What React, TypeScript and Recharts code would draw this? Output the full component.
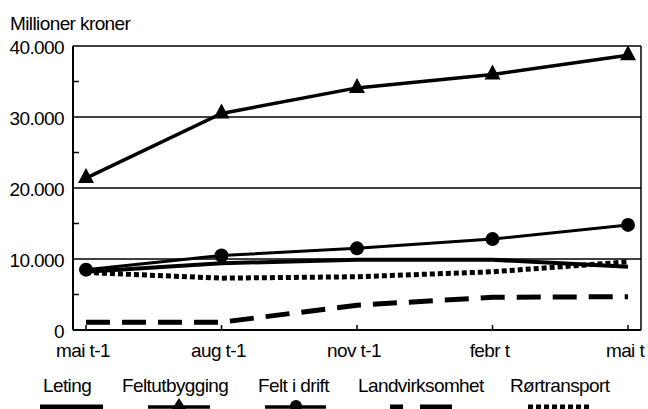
import { Line, LineChart, ReferenceLine, XAxis, YAxis } from "recharts"

const categories = ["mai t-1", "aug t-1", "nov t-1", "febr t", "mai t"]
const leting = [8200, 9400, 9900, 9900, 8900]
const feltutbygging = [21400, 30500, 34100, 36000, 38700]
const feltIDrift = [8500, 10500, 11500, 12800, 14800]
const landvirksomhet = [1100, 1100, 3500, 4600, 4700]
const rortransport = [8100, 7300, 7500, 8200, 9600]

const yTicks = [0, 5000, 10000, 15000, 20000, 25000, 30000, 35000, 40000]
const gridValues = [10000, 20000, 30000, 40000]

const data = categories.map((month, i) => ({
  month,
  leting: leting[i],
  feltutbygging: feltutbygging[i],
  feltIDrift: feltIDrift[i],
  landvirksomhet: landvirksomhet[i],
  rortransport: rortransport[i],
}))

const font = "'Liberation Sans', Arial, Helvetica, sans-serif"
const fontSize = 19
const spacing = -0.6

const fmt = (v: number) => (v === 0 ? "0" : `${v / 1000}.000`)

const YTick = (props: any) => {
  const { x, y, payload } = props
  const v = payload.value
  if (v % 10000 !== 0) {
    return <line x1={x} x2={x + 6} y1={y} y2={y} stroke="#000" strokeWidth={1.5} />
  }
  return (
    <text x={x - 9} y={y + 1} textAnchor="end" dominantBaseline="central" fontFamily={font} fontSize={fontSize} letterSpacing={spacing} fill="#000">
      {fmt(v)}
    </text>
  )
}

const XTick = (props: any) => {
  const { x, y, payload } = props
  return (
    <g>
      <line x1={x} x2={x} y1={y - 5} y2={y} stroke="#000" strokeWidth={1.5} />
      <text x={x - 3} y={y + 27} textAnchor="middle" fontFamily={font} fontSize={fontSize} letterSpacing={spacing} fill="#000">
        {payload.value}
      </text>
    </g>
  )
}

const Triangle = (props: any) => {
  const { cx, cy, index } = props
  return <polygon key={index} points={`${cx},${cy - 10} ${cx - 8},${cy + 5} ${cx + 8},${cy + 5}`} fill="#000" />
}

const Circle = (props: any) => {
  const { cx, cy, index } = props
  return <circle key={index} cx={cx} cy={cy} r={7} fill="#000" />
}

const LegendOverlay = () => (
  <svg width={648} height={409} style={{ position: "absolute", left: 0, top: 0, pointerEvents: "none" }}>
    <text x={10} y={30} fontFamily={font} fontSize={fontSize} letterSpacing={spacing} fill="#000">Millioner kroner</text>
    <g fontFamily={font} fontSize={fontSize} letterSpacing={spacing} fill="#000">
      <text x={43} y={392}>Leting</text>
      <text x={122} y={392}>Feltutbygging</text>
      <text x={258} y={392}>Felt i drift</text>
      <text x={358} y={392}>Landvirksomhet</text>
      <text x={510} y={392}>Rørtransport</text>
    </g>
    <line x1={40} x2={103} y1={407} y2={407} stroke="#000" strokeWidth={5} />
    <line x1={148} x2={210} y1={407} y2={407} stroke="#000" strokeWidth={3.5} />
    <polygon points="179,398 172,409 186,409" fill="#000" />
    <line x1={265} x2={326} y1={407} y2={407} stroke="#000" strokeWidth={3.5} />
    <circle cx={296} cy={406} r={6} fill="#000" />
    <line x1={390} x2={452} y1={407} y2={407} stroke="#000" strokeWidth={5} strokeDasharray="13 17 32" />
    <line x1={528} x2={590} y1={407} y2={407} stroke="#000" strokeWidth={5} strokeDasharray="5 3" />
  </svg>
)

export default function App() {
  return (
    <div style={{ position: "absolute", left: 0, top: 0, width: 648, height: 409, background: "#fff" }}>
      <LineChart width={648} height={409} data={data} margin={{ top: 46, right: 0, bottom: 49, left: 0 }}>
        {gridValues.map((v) => (
          <ReferenceLine key={v} y={v} stroke="#000" strokeWidth={1.5} />
        ))}
        <XAxis
          dataKey="month"
          height={30}
          padding={{ left: 13, right: 13 }}
          tickSize={0}
          tickMargin={0}
          tick={<XTick />}
          interval={0}
          axisLine={{ stroke: "#000", strokeWidth: 2 }}
        />
        <YAxis
          type="number"
          domain={[0, 40000]}
          ticks={yTicks}
          interval={0}
          width={73}
          tickSize={0}
          tickMargin={0}
          tick={<YTick />}
          axisLine={{ stroke: "#000", strokeWidth: 2 }}
        />
        <YAxis
          yAxisId="right"
          orientation="right"
          type="number"
          domain={[0, 40000]}
          width={7}
          tick={false}
          tickLine={false}
          axisLine={{ stroke: "#000", strokeWidth: 1.5 }}
        />
        <Line type="linear" dataKey="landvirksomhet" stroke="#000" strokeWidth={5} strokeDasharray="24 12" dot={false} isAnimationActive={false} />
        <Line type="linear" dataKey="rortransport" stroke="#000" strokeWidth={5} strokeDasharray="5 3" dot={false} isAnimationActive={false} />
        <Line type="linear" dataKey="leting" stroke="#000" strokeWidth={4} dot={false} isAnimationActive={false} />
        <Line type="linear" dataKey="feltIDrift" stroke="#000" strokeWidth={3} dot={<Circle />} isAnimationActive={false} />
        <Line type="linear" dataKey="feltutbygging" stroke="#000" strokeWidth={3.5} dot={<Triangle />} isAnimationActive={false} />
      </LineChart>
      <LegendOverlay />
    </div>
  )
}
